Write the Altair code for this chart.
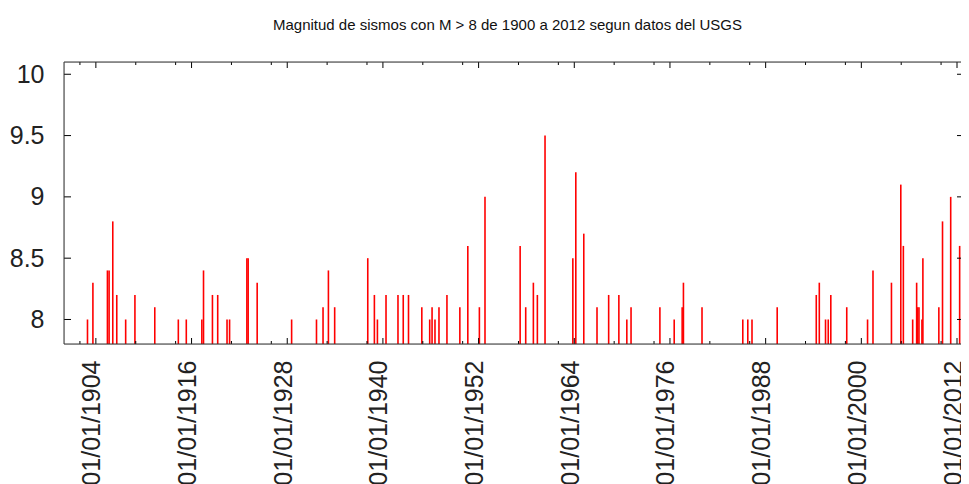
import altair as alt
import pandas as pd

TITLE = "Magnitud de sismos con M > 8 de 1900 a 2012 segun datos del USGS"

dates = [
    "1902-12-13", "1903-08-18", "1905-06-13", "1905-08-29", "1906-02-13",
    "1906-08-15", "1907-09-27", "1908-11-24", "1911-05-22", "1914-05-05",
    "1915-05-05", "1917-04-16", "1917-07-02", "1918-08-15", "1919-04-13",
    "1920-06-13", "1920-10-08", "1922-12-09", "1923-02-06", "1924-03-25",
    "1928-07-20",
    "1931-09-02", "1932-06-28", "1933-03-01", "1933-12-13", "1938-02-06",
    "1938-12-06", "1939-04-24", "1940-05-22", "1941-11-21", "1942-07-20",
    "1943-03-18", "1944-11-17", "1945-11-13", "1946-03-01", "1946-07-13",
    "1947-01-12", "1948-01-12", "1949-08-25", "1950-08-25", "1952-02-06",
    "1952-10-20", "1957-03-18", "1957-11-28", "1958-11-14", "1959-05-16",
    "1960-05-01",
    "1963-10-27", "1964-03-11", "1965-03-11", "1966-11-07", "1968-04-24",
    "1969-08-04", "1970-08-04", "1971-02-13", "1974-09-27", "1976-07-13",
    "1977-07-13", "1977-09-09", "1980-01-08", "1985-02-18", "1985-10-05",
    "1986-04-16", "1989-06-13",
    "1994-05-08", "1994-09-24", "1995-07-06", "1995-11-07", "1996-03-04",
    "1998-03-04", "2000-10-12", "2001-06-18", "2003-10-12", "2004-12-13",
    "2005-04-09", "2006-06-10", "2006-12-09", "2007-01-23", "2007-03-26",
    "2007-08-08", "2007-09-21", "2009-09-21", "2010-03-08", "2011-03-18",
    "2012-05-01",
]
magnitudes = [
    8.0, 8.3, 8.4, 8.4, 8.8,
    8.2, 8.0, 8.2, 8.1, 8.0,
    8.0, 8.0, 8.4, 8.2, 8.2,
    8.0, 8.0, 8.5, 8.5, 8.3,
    8.0,
    8.0, 8.1, 8.4, 8.1, 8.5,
    8.2, 8.0, 8.2, 8.2, 8.2,
    8.2, 8.1, 8.0, 8.1, 8.0,
    8.1, 8.2, 8.1, 8.6, 8.1,
    9.0, 8.6, 8.1, 8.3, 8.2,
    9.5,
    8.5, 9.2, 8.7, 8.1, 8.2,
    8.2, 8.0, 8.1, 8.1, 8.0,
    8.1, 8.3, 8.1, 8.0, 8.0,
    8.0, 8.1,
    8.2, 8.3, 8.0, 8.0, 8.2,
    8.1, 8.0, 8.4, 8.3, 9.1,
    8.6, 8.0, 8.3, 8.1, 8.1,
    8.0, 8.5, 8.1, 8.8, 9.0,
    8.6,
]
major_years = [1904, 1916, 1928, 1940, 1952, 1964, 1976, 1988, 2000, 2012]
minor_years = [1902, 1909, 1914, 1921, 1926, 1933, 1938, 1945, 1950, 1957,
               1962, 1969, 1974, 1981, 1986, 1993, 1998, 2005, 2010]
y_ticks = [8, 8.5, 9, 9.5, 10]

# the page is 953px wide inside its margins: the plot runs off the right edge
W, H, XR = 897, 282, 901
FONT = "Liberation Sans"
AX = "#333333"

df = pd.DataFrame({"date": [d + "T00:00:00" for d in dates], "mag": magnitudes})
major_df = pd.DataFrame({"date": [f"{y}-01-01T00:00:00" for y in major_years]})
minor_df = pd.DataFrame({"date": [f"{y}-01-01T00:00:00" for y in minor_years]})
ytick_df = pd.DataFrame({"mag": y_ticks})
one = pd.DataFrame({"k": [0]})

xscale = alt.Scale(
    domain=[alt.DateTime(year=1900, month=1, date=1), alt.DateTime(year=2013, month=1, date=1)],
    range=[0, XR],
    nice=False,
)
yscale = alt.Scale(domain=[7.8, 10.1], nice=False, zero=False)

xaxis = alt.Axis(
    values=[alt.DateTime(year=y, month=1, date=1) for y in major_years],
    format="%d/%m/%Y",
    labelAngle=270,
    labelAlign="right",
    labelBaseline="middle",
    labelPadding=16,
    labelOffset=-4,
    ticks=False,
    domain=False,
    grid=False,
    labelFlush=False,
    labelOverlap=False,
    labelFont=FONT,
    labelFontSize=25,
    labelColor="#222222",
    title=None,
)
yaxis = alt.Axis(
    values=y_ticks,
    format="~g",
    ticks=False,
    domain=False,
    grid=False,
    labelPadding=20,
    labelFont=FONT,
    labelFontSize=25,
    labelColor="#222222",
    title=None,
)

X = alt.X("date:T", scale=xscale, axis=xaxis)
Y = alt.Y("mag:Q", scale=yscale, axis=yaxis)

impulses = alt.Chart(df).mark_rule(color="#ff0000", strokeWidth=1.6).encode(
    x=X, y=Y, y2=alt.datum(7.8)
)

def xt(data, y0, y1):
    return alt.Chart(data).mark_rule(color="#000000", strokeWidth=1).encode(
        x=X, y=alt.value(y0), y2=alt.value(y1)
    )

def yt(x0, x1):
    return alt.Chart(ytick_df).mark_rule(color="#000000", strokeWidth=1).encode(
        y=Y, x=alt.value(x0), x2=alt.value(x1)
    )

ticks = [
    xt(major_df, H, H - 6), xt(major_df, 0, 6),
    xt(minor_df, H, H - 3), xt(minor_df, 0, 3),
    yt(0, 7), yt(W - 4, W),
]

border = [
    alt.Chart(one).mark_rule(color=AX, strokeWidth=1).encode(x=alt.value(0), y=alt.value(0), y2=alt.value(H)),
    alt.Chart(one).mark_rule(color=AX, strokeWidth=1).encode(x=alt.value(0), x2=alt.value(XR), y=alt.value(0)),
    alt.Chart(one).mark_rule(color=AX, strokeWidth=1).encode(x=alt.value(0), x2=alt.value(XR), y=alt.value(H)),
]

chart = alt.layer(impulses, *ticks, *border).properties(
    width=W,
    height=H,
    title=alt.TitleParams(
        TITLE,
        font=FONT,
        fontSize=15,
        fontWeight="normal",
        color="#111111",
        anchor="middle",
        frame="group",
        offset=29,
        dx=-5,
    ),
    autosize=alt.AutoSizeParams(type="none"),
    padding={"left": 56, "top": 54, "right": 0, "bottom": 140},
).configure_view(stroke=None).configure(background="white")

chart.save("out.html", embed_options={"renderer": "svg", "actions": False})
